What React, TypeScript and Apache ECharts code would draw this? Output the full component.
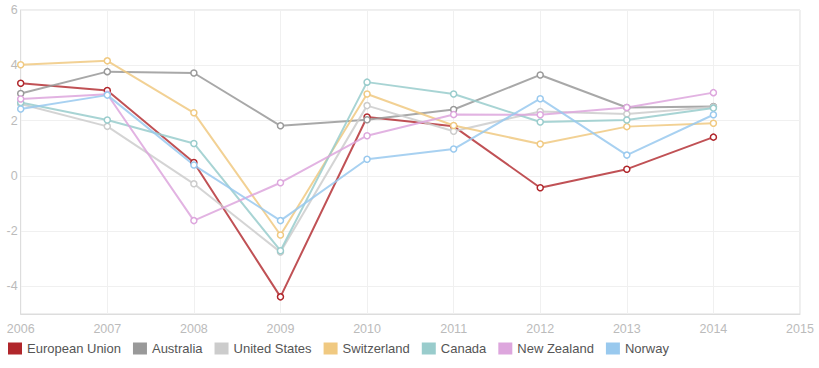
import React, { useEffect, useRef } from "react";
import * as echarts from "echarts";

const years = [2006, 2007, 2008, 2009, 2010, 2011, 2012, 2013, 2014];
const seriesNames = ["European Union", "Australia", "United States", "Switzerland", "Canada", "New Zealand", "Norway"];
const colors = ["#b0262b", "#999999", "#cccccc", "#f0c981", "#99cccc", "#dda6dd", "#99c9ee"];
const euValues = [3.35, 3.09, 0.48, -4.38, 2.13, 1.79, -0.43, 0.24, 1.4];
const australiaValues = [2.98, 3.77, 3.72, 1.81, 2.03, 2.4, 3.65, 2.47, 2.51];
const usValues = [2.6, 1.79, -0.29, -2.76, 2.54, 1.61, 2.33, 2.24, 2.49];
const switzerlandValues = [4.02, 4.16, 2.28, -2.14, 2.96, 1.82, 1.15, 1.78, 1.9];
const canadaValues = [2.65, 2.02, 1.17, -2.71, 3.39, 2.96, 1.95, 2.02, 2.45];
const newZealandValues = [2.78, 2.95, -1.62, -0.25, 1.45, 2.22, 2.21, 2.47, 3.01];
const norwayValues = [2.42, 2.92, 0.39, -1.62, 0.6, 0.97, 2.79, 0.75, 2.21];
const allValues = [euValues, australiaValues, usValues, switzerlandValues, canadaValues, newZealandValues, norwayValues];

const FONT = "Liberation Sans, Arial, sans-serif";

export default function App() {
  const ref = useRef<HTMLDivElement>(null);
  useEffect(() => {
    if (!ref.current) return;
    const chart = echarts.init(ref.current, undefined, { renderer: "svg" });
    chart.setOption({
      animation: false,
      grid: { left: 20.7, right: 19, top: 10, bottom: 54, show: true, borderColor: "#dddddd", borderWidth: 1 },
      legend: {
        top: 342,
        left: 8,
        padding: 0,
        icon: "rect",
        itemWidth: 14,
        itemHeight: 12,
        itemGap: 12,
        textStyle: { color: "#555555", fontSize: 13, fontFamily: FONT },
        data: seriesNames.map((n, i) => ({ name: n, itemStyle: { color: colors[i], borderWidth: 0 } })),
      },
      xAxis: {
        type: "value",
        min: 2006,
        max: 2015,
        interval: 1,
        axisLine: { show: true, onZero: false, lineStyle: { color: "#dddddd" } },
        axisTick: { show: false },
        axisLabel: { color: "#bbbbbb", fontSize: 12.5, fontFamily: FONT, margin: 8, formatter: (v: number) => String(v) },
        splitLine: { show: true, lineStyle: { color: "#f0f0f0", width: 1 } },
      },
      yAxis: {
        type: "value",
        min: -5,
        max: 6,
        interval: 1,
        axisLine: { show: true, onZero: false, lineStyle: { color: "#dddddd" } },
        axisTick: { show: false },
        axisLabel: {
          color: "#bbbbbb",
          fontSize: 12.5,
          fontFamily: FONT,
          margin: 3,
          formatter: (v: number) => (v % 2 === 0 ? String(v) : ""),
        },
        splitLine: { show: true, lineStyle: { color: ["transparent", "#f0f0f0"], width: 1 } },
      },
      series: seriesNames.map((name, i) => ({
        name,
        type: "line",
        data: years.map((y, j) => [y, allValues[i][j]]),
        symbol: "circle",
        symbolSize: 6,
        showAllSymbol: true,
        itemStyle: { color: "#ffffff", borderColor: colors[i], borderWidth: 1.5 },
        lineStyle: { color: colors[i], width: 2, opacity: i === 0 ? 0.8 : 0.85 },
      })),
    });
    return () => chart.dispose();
  }, []);
  return <div ref={ref} style={{ width: 819, height: 368, position: "absolute", left: 0, top: 0 }} />;
}
